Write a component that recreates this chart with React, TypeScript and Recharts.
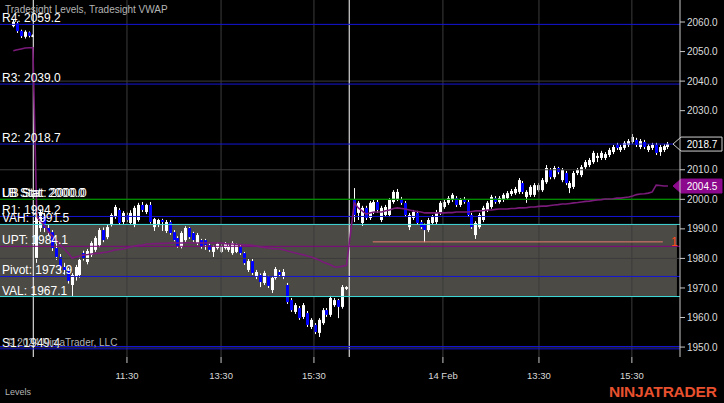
import React from 'react';
import { ComposedChart, Bar, Line, XAxis, YAxis, ReferenceLine, ReferenceArea } from 'recharts';

// prior day tail (6 bars), session 1 (80 bars), session 2 (81 bars)
const opens = [
  2058.6, 2059.6, 2057.0, 2055.0, 2056.5, 2055.2,
  1980.1, 1990.3, 1994.0, 1990.3, 1988.9, 1983.5, 1980.5, 1977.1, 1976.1, 1971.0,
  1973.7, 1974.4, 1981.8, 1978.8, 1981.2, 1982.9, 1984.5, 1989.6, 1987.2, 1991.3,
  1994.0, 1996.4, 1992.3, 1994.7, 1992.0, 1991.3, 1993.0, 1998.1, 1995.7, 1998.1,
  1990.6, 1991.6, 1993.0, 1989.3, 1992.3, 1988.9, 1986.9, 1983.9, 1986.2, 1990.3,
  1988.6, 1985.2, 1986.2, 1986.2, 1984.5, 1982.2, 1983.5, 1982.2, 1983.5, 1982.9,
  1981.8, 1982.2, 1983.9, 1981.8, 1976.1, 1979.1, 1973.7, 1974.4, 1971.7, 1973.7,
  1969.3, 1973.4, 1975.4, 1973.7, 1971.0, 1965.9, 1961.9, 1963.2, 1960.2, 1961.5,
  1956.8, 1957.5, 1954.8, 1958.1, 1962.5, 1960.9, 1964.2, 1965.9, 1963.6, 1969.7,
  2000.1, 1995.4, 1992.0, 1997.1, 1993.7, 1995.7, 1999.1, 1993.0, 1994.7, 1994.7,
  1999.1, 1999.8, 2000.1, 1998.8, 1990.6, 1993.7, 1995.4, 1992.3, 1991.3, 1989.6,
  1992.0, 1992.3, 1995.4, 1997.4, 1998.8, 1999.8, 2000.4, 1998.1, 2000.1, 1999.1,
  1994.7, 1987.9, 1990.6, 1993.0, 1996.4, 1997.4, 2000.4, 1999.1, 1999.8, 2000.4,
  2001.8, 2002.1, 2002.5, 2005.5, 2000.8, 2001.5, 2001.5, 2003.1, 2003.1, 2005.8,
  2009.9, 2007.5, 2010.6, 2006.5, 2008.9, 2003.8, 2004.2, 2008.9, 2008.2, 2010.9,
  2011.6, 2012.6, 2014.0, 2014.0, 2014.0, 2015.0, 2016.0, 2018.4, 2016.7, 2017.4,
  2018.4, 2019.4, 2020.1, 2017.7, 2019.4, 2016.7, 2017.4, 2018.4, 2016.0, 2016.7, 2017.7,
];

const highs = [
  2060.8, 2060.2, 2057.4, 2057.2, 2056.8, 2055.8,
  1995.0, 1996.6, 1995.4, 1991.5, 1989.6, 1985.0, 1981.5, 1978.5, 1976.8, 1975.0,
  1977.8, 1980.2, 1982.6, 1983.2, 1985.8, 1987.5, 1990.3, 1990.5, 1991.4, 1995.3,
  1998.1, 1997.0, 1996.0, 1995.5, 1996.3, 1997.8, 1998.8, 1999.1, 1998.5, 1999.1,
  1993.7, 1993.4, 1993.4, 1993.0, 1992.9, 1989.6, 1987.5, 1989.2, 1990.9, 1990.6,
  1989.0, 1988.6, 1986.6, 1986.6, 1985.0, 1984.3, 1985.3, 1984.8, 1985.5, 1984.9,
  1985.8, 1985.0, 1984.5, 1982.2, 1979.8, 1979.8, 1976.1, 1974.9, 1975.8, 1974.1,
  1974.0, 1977.1, 1976.1, 1976.4, 1971.7, 1966.6, 1964.9, 1963.9, 1964.9, 1962.2,
  1959.8, 1958.1, 1959.8, 1963.2, 1963.2, 1967.3, 1966.6, 1966.3, 1971.0, 1970.6,
  2003.8, 1999.4, 1997.8, 1997.8, 1999.4, 1999.8, 1999.8, 1997.8, 1998.1, 2000.4,
  2003.1, 2003.5, 2000.8, 1999.4, 1995.4, 1996.4, 1996.1, 1993.0, 1991.8, 1993.7,
  1994.7, 1996.4, 1999.4, 1999.8, 2001.1, 2002.1, 2001.1, 2000.4, 2000.8, 1999.8,
  1995.4, 1992.6, 1995.4, 1997.8, 1999.4, 2001.5, 2001.1, 2001.1, 2002.1, 2002.8,
  2003.5, 2004.2, 2007.2, 2006.2, 2003.1, 2004.8, 2005.5, 2005.5, 2007.2, 2011.6,
  2010.6, 2011.3, 2011.0, 2010.6, 2009.6, 2006.2, 2009.6, 2010.6, 2011.6, 2013.3,
  2014.0, 2016.4, 2015.7, 2016.4, 2016.0, 2017.4, 2018.4, 2019.1, 2018.4, 2019.7,
  2020.4, 2022.1, 2020.8, 2020.4, 2020.1, 2018.7, 2019.1, 2019.1, 2018.4, 2018.7, 2019.4,
];

const lows = [
  2058.2, 2056.3, 2054.6, 2054.4, 2054.8, 2054.9,
  1978.5, 1989.0, 1988.9, 1987.5, 1982.5, 1979.5, 1976.0, 1974.5, 1971.5, 1967.3,
  1972.5, 1973.5, 1979.3, 1978.0, 1980.5, 1982.2, 1983.8, 1985.5, 1986.5, 1990.8,
  1993.4, 1991.4, 1991.6, 1992.3, 1991.4, 1990.6, 1992.4, 1995.7, 1995.0, 1991.8,
  1989.3, 1990.6, 1989.3, 1988.6, 1988.0, 1985.8, 1983.6, 1983.4, 1985.6, 1986.6,
  1985.6, 1984.5, 1983.3, 1982.9, 1982.2, 1980.5, 1983.0, 1981.8, 1983.0, 1982.2,
  1981.2, 1981.8, 1981.2, 1977.8, 1975.4, 1974.4, 1973.0, 1970.3, 1971.0, 1970.0,
  1968.3, 1972.8, 1973.7, 1973.0, 1964.6, 1961.9, 1961.2, 1959.2, 1959.5, 1956.8,
  1956.1, 1954.4, 1953.4, 1957.5, 1960.2, 1960.2, 1963.6, 1959.8, 1963.0, 1969.3,
  1992.3, 1993.0, 1991.0, 1993.0, 1993.0, 1995.0, 1995.4, 1992.3, 1994.0, 1994.0,
  1998.5, 1999.4, 1998.1, 1994.0, 1989.6, 1993.0, 1991.4, 1990.0, 1985.5, 1988.9,
  1991.4, 1991.6, 1994.7, 1996.8, 1998.1, 1999.1, 1997.4, 1997.4, 1998.5, 1994.0,
  1990.0, 1986.6, 1990.0, 1992.3, 1995.7, 1996.8, 1998.5, 1998.5, 1999.1, 1999.8,
  2001.1, 2001.5, 2001.8, 2001.8, 1998.8, 2000.8, 2000.8, 2002.5, 2002.5, 2005.2,
  2006.8, 2006.8, 2008.5, 2005.8, 2004.8, 2002.1, 2003.5, 2008.2, 2007.5, 2010.3,
  2010.9, 2012.0, 2012.6, 2013.3, 2013.3, 2014.3, 2015.3, 2016.7, 2016.0, 2016.7,
  2017.7, 2018.7, 2017.7, 2017.0, 2017.0, 2016.0, 2016.7, 2015.0, 2014.7, 2016.0, 2017.0,
];

const closes = [
  2060.1, 2056.9, 2055.2, 2056.7, 2055.3, 2055.4,
  1994.0, 1995.7, 1990.3, 1988.9, 1983.5, 1980.5, 1977.1, 1976.1, 1972.4, 1974.4,
  1977.1, 1979.5, 1980.1, 1982.5, 1985.2, 1986.9, 1989.6, 1986.2, 1990.6, 1994.7,
  1997.4, 1992.0, 1995.4, 1993.0, 1995.4, 1997.1, 1998.1, 1996.4, 1998.1, 1992.3,
  1993.3, 1993.0, 1992.3, 1992.3, 1988.6, 1986.2, 1984.2, 1988.6, 1990.3, 1987.2,
  1986.2, 1987.9, 1983.9, 1984.5, 1982.9, 1983.9, 1984.9, 1984.2, 1984.9, 1984.2,
  1985.2, 1984.5, 1981.8, 1978.4, 1979.1, 1975.1, 1975.4, 1972.0, 1975.1, 1970.7,
  1973.4, 1976.4, 1974.4, 1975.4, 1965.2, 1962.5, 1964.2, 1959.8, 1964.2, 1957.5,
  1959.2, 1955.1, 1959.2, 1962.5, 1960.9, 1966.6, 1965.9, 1963.6, 1970.3, 1970.3,
  1994.7, 1998.8, 1997.1, 1993.7, 1998.8, 1999.1, 1996.4, 1997.1, 1997.4, 1999.8,
  2002.5, 2002.5, 1998.8, 1994.7, 1994.7, 1995.7, 1992.0, 1990.6, 1989.6, 1993.0,
  1994.0, 1995.7, 1998.8, 1999.1, 2000.4, 2001.5, 1998.1, 1999.8, 1999.1, 1994.7,
  1990.6, 1992.0, 1994.7, 1997.1, 1998.8, 2000.8, 1999.1, 2000.4, 2001.5, 2002.1,
  2002.8, 2003.5, 2006.5, 2002.5, 2002.5, 2004.2, 2004.8, 2004.8, 2006.5, 2010.6,
  2007.5, 2010.6, 2009.2, 2009.9, 2005.5, 2005.5, 2008.9, 2009.9, 2010.9, 2012.6,
  2013.3, 2015.7, 2014.7, 2015.7, 2015.3, 2016.7, 2017.7, 2017.4, 2017.7, 2019.1,
  2019.7, 2021.1, 2018.4, 2019.7, 2017.7, 2018.0, 2018.4, 2015.7, 2017.7, 2018.0, 2018.7,
];

const vwap = [
  2050.3, 2050.6, 2050.9, 2051.2, 2051.3, 2051.3,
  1994.0, 1992.6, 1991.0, 1988.9, 1987.6, 1986.2, 1984.5, 1983.2, 1981.8, 1980.1,
  1980.5, 1980.8, 1981.2, 1981.3, 1981.5, 1981.7, 1981.8, 1982.0, 1982.2, 1982.5,
  1982.9, 1983.0, 1983.2, 1983.5, 1983.9, 1984.2, 1984.4, 1984.5, 1984.9, 1984.9,
  1985.0, 1985.0, 1985.1, 1985.1, 1985.2, 1985.2, 1985.2, 1985.2, 1985.3, 1985.3,
  1985.2, 1985.2, 1985.2, 1985.2, 1985.2, 1985.2, 1985.2, 1985.2, 1985.0, 1984.9,
  1984.9, 1984.7, 1984.7, 1984.5, 1984.5, 1984.4, 1984.2, 1983.9, 1983.7, 1983.5,
  1983.4, 1983.2, 1983.2, 1982.9, 1982.5, 1982.2, 1981.8, 1981.5, 1981.2, 1980.8,
  1980.5, 1980.0, 1979.5, 1978.8, 1978.3, 1977.8, 1977.1, 1977.1, 1977.4, 1977.6,
  1998.8, 1997.1, 1996.1, 1995.0, 1995.4, 1995.7, 1995.7, 1995.7, 1996.1, 1996.4,
  1996.9, 1997.1, 1996.9, 1996.7, 1996.4, 1996.1, 1995.9, 1995.7, 1995.4, 1995.4,
  1995.4, 1995.4, 1995.4, 1995.4, 1995.5, 1995.5, 1995.7, 1995.7, 1995.7, 1995.7,
  1995.9, 1996.1, 1996.1, 1996.2, 1996.4, 1996.4, 1996.6, 1996.7, 1996.7, 1996.7,
  1996.9, 1996.9, 1997.1, 1997.1, 1997.2, 1997.4, 1997.4, 1997.6, 1997.7, 1997.7,
  1997.9, 1998.1, 1998.2, 1998.4, 1998.4, 1998.6, 1998.8, 1998.9, 1999.1, 1999.3,
  1999.4, 1999.6, 1999.8, 1999.9, 2000.1, 2000.1, 2000.2, 2000.4, 2000.4, 2000.6,
  2000.8, 2001.1, 2001.6, 2001.8, 2001.9, 2002.1, 2002.5, 2004.8, 2004.7, 2004.5, 2004.5,
];

const timeTicks = [29, 53, 76.7, 109.6, 134.1, 157.8];
const timeLabels = ['11:30', '13:30', '15:30', '14 Feb', '13:30', '15:30'];
const sessionBreaks = [5.1, 85.7];

const priceTicks = [1950, 1960, 1970, 1980, 1990, 2000, 2010, 2020, 2030, 2040, 2050, 2060];
const gridPrices = [1950, 1980, 2010, 2040];

const levelNames = ['R4', 'R3', 'R2', 'UB Stat', 'LB Stat', 'R1', 'VAH', 'UPT', 'Pivot', 'VAL', 'S1'];
const levelValues = [2059.2, 2039.0, 2018.7, 2000.0, 2000.0, 1994.2, 1991.5, 1984.1, 1973.9, 1967.1, 1949.4];
const extraLevels = [1950.2];

const valueAreaHigh = 1991.5;
const valueAreaLow = 1967.1;
const orderPrice = 1985.6;
const orderStart = 91.7;
const orderEnd = 165.7;
const orderQty = '1';

const BLUE = '#1414d8';
const levelColor = (name: string) => {
  if (name.includes('Stat')) return '#009000';
  if (name === 'VAH' || name === 'VAL') return '#40dcdc';
  if (name === 'UPT') return '#800080';
  return BLUE;
};

const bars = opens.map((open, i) => ({
  slot: i < 86 ? i : i + 1,
  open,
  high: highs[i],
  low: lows[i],
  close: closes[i],
  vwap: vwap[i],
  range: [lows[i], highs[i]],
}));

const lastClose = closes[closes.length - 1];
const lastVwap = vwap[vwap.length - 1];
// the last-price tag hides the axis label it sits on
const shownTicks = priceTicks.filter((t) => Math.abs(t - lastClose) > 3);

const Candle = (props: any) => {
  const { x, y, width, height, payload } = props;
  if (!payload) return null;
  const { open, close, high, low } = payload;
  const top = Math.min(y, y + height);
  const h = Math.abs(height);
  const span = high - low || 1;
  const py = (v: number) => top + ((high - v) / span) * h;
  const cx = Math.round(x + width / 2) + 0.5;
  const bTop = py(Math.max(open, close));
  const bBot = py(Math.min(open, close));
  const up = close >= open;
  return (
    <g>
      <line x1={cx} x2={cx} y1={top} y2={top + h} stroke="#ffffff" strokeWidth={1} />
      <rect x={cx - 1.5} y={bTop} width={3} height={Math.max(1, bBot - bTop)} fill={up ? '#ffffff' : '#0000ff'} />
    </g>
  );
};

const PriceTag = ({ viewBox, text, fill, stroke }: any) => {
  if (!viewBox) return null;
  const right = viewBox.x + viewBox.width;
  const y = viewBox.y;
  const tip = right - 7;
  const pts = `${tip},${y} ${right + 1},${y - 7} ${right + 42},${y - 7} ${right + 42},${y + 7} ${right + 1},${y + 7}`;
  return (
    <g>
      <polygon points={pts} fill={fill} stroke={stroke} strokeWidth={1} />
      <text x={right + 22} y={y + 3.5} textAnchor="middle" fill="#ffffff" fontSize={10}>{text}</text>
    </g>
  );
};

const OrderTag = ({ viewBox }: any) => {
  if (!viewBox) return null;
  return (
    <text x={viewBox.x + viewBox.width - 9} y={viewBox.y + 4} fill="#ff4a1a" fontSize={12}>{orderQty}</text>
  );
};

export default function App() {
  return (
    <div style={{ position: 'absolute', left: 0, top: 0, width: 724, height: 403, background: '#000', overflow: 'hidden', fontFamily: '"Liberation Sans", Arial, sans-serif' }}>
      <ComposedChart width={724} height={403} data={bars} margin={{ top: 0, right: 0, left: 0, bottom: 16 }}>
        <XAxis
          dataKey="slot"
          type="number"
          domain={[-3.39, 170.08]}
          allowDataOverflow
          ticks={timeTicks}
          interval={0}
          tickFormatter={(v: number) => timeLabels[timeTicks.indexOf(v)] ?? ''}
          axisLine={false}
          tickLine={{ stroke: '#c8c8c8' }}
          tickSize={6}
          tickMargin={9}
          height={30}
          tick={{ fill: '#d8d8d8', fontSize: 9.5 }}
        />
        <YAxis
          orientation="right"
          type="number"
          domain={[1946.64, 2067.45]}
          allowDataOverflow
          ticks={shownTicks}
          interval={0}
          tickFormatter={(v: number) => v.toFixed(1)}
          width={44}
          axisLine={{ stroke: '#c8c8c8' }}
          tickLine={{ stroke: '#c8c8c8' }}
          tickSize={5}
          tickMargin={2}
          tick={{ fill: '#dcdcdc', fontSize: 10 }}
        />
        <ReferenceArea x1={-3.39} x2={169.3} y1={valueAreaLow} y2={valueAreaHigh} fill="#4b4a45" fillOpacity={1} stroke="none" />
        {gridPrices.map((g) => (
          <ReferenceLine key={`gy${g}`} y={g} stroke="#3c3c3c" strokeWidth={1} />
        ))}
        {timeTicks.map((t) => (
          <ReferenceLine key={`gx${t}`} x={t} stroke="#3c3c3c" strokeWidth={1} />
        ))}
        {sessionBreaks.map((s) => (
          <ReferenceLine key={`sb${s}`} x={s} stroke="#ffffff" strokeWidth={1} />
        ))}
        {extraLevels.map((v) => (
          <ReferenceLine key={`ex${v}`} y={v} stroke={BLUE} strokeWidth={1} />
        ))}
        {levelNames.map((name, i) => (
          <ReferenceLine
            key={name}
            y={levelValues[i]}
            stroke={levelColor(name)}
            strokeWidth={1}
            label={{ value: `${name}: ${levelValues[i].toFixed(1)}`, position: 'insideBottomLeft', offset: 2, fill: '#ffffff', fontSize: 12 }}
          />
        ))}
        <ReferenceLine
          segment={[{ x: orderStart, y: orderPrice }, { x: orderEnd, y: orderPrice }]}
          stroke="#e8786a"
          strokeWidth={1}
        />
        <Line
          type="linear"
          dataKey="vwap"
          stroke="#7a1a7a"
          strokeWidth={1.6}
          dot={false}
          activeDot={false}
          isAnimationActive={false}
        />
        <Bar dataKey="range" barSize={3} shape={<Candle />} activeBar={false} isAnimationActive={false} />
        <ReferenceLine y={orderPrice} stroke="none" label={(p: any) => <OrderTag viewBox={p.viewBox} />} />
        <ReferenceLine y={lastVwap} stroke="none" label={(p: any) => <PriceTag viewBox={p.viewBox} text={lastVwap.toFixed(1)} fill="#8c088c" stroke="#8c088c" />} />
        <ReferenceLine y={lastClose} stroke="none" label={(p: any) => <PriceTag viewBox={p.viewBox} text={lastClose.toFixed(1)} fill="#000000" stroke="#cfcfcf" />} />
      </ComposedChart>
      <div style={{ position: 'absolute', left: 5, top: 4, fontSize: 10, color: '#b4b4b4', lineHeight: '12px', pointerEvents: 'none' }}>
        Tradesight Levels, Tradesight VWAP
      </div>
      <div style={{ position: 'absolute', left: 7, top: 337, fontSize: 10, color: '#b4b4b4', lineHeight: '12px', pointerEvents: 'none' }}>
        © 2024 NinjaTrader, LLC
      </div>
      <div style={{ position: 'absolute', left: 5, top: 387, fontSize: 9, color: '#b4b4b4', lineHeight: '11px' }}>
        Levels
      </div>
      <div style={{ position: 'absolute', left: 609, top: 384, fontSize: 15.5, fontWeight: 700, color: '#e8502e', lineHeight: '16px', letterSpacing: '-0.2px' }}>
        NINJATRADER
      </div>
    </div>
  );
}
